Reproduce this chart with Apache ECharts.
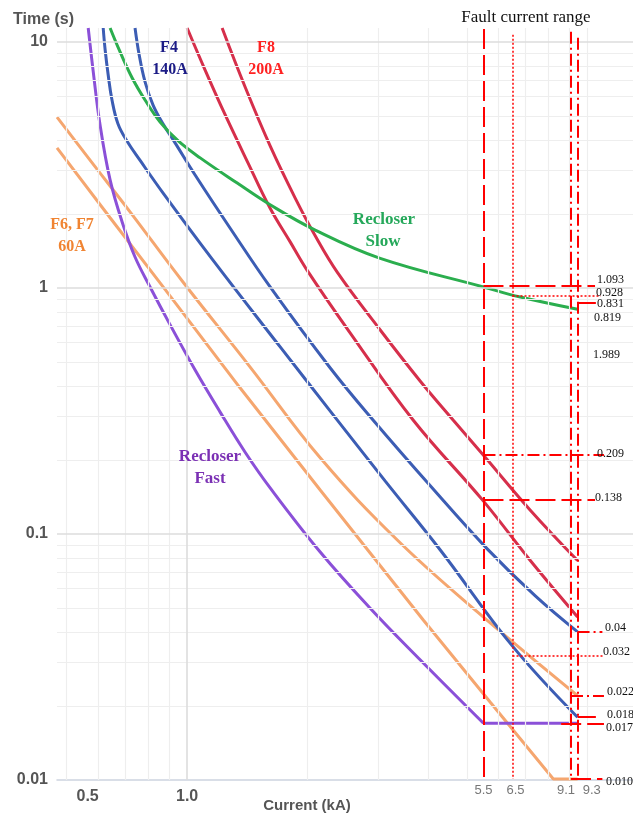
<!DOCTYPE html>
<html>
<head>
<meta charset="utf-8">
<title>Fuse / recloser coordination</title>
<script src="https://cdn.jsdelivr.net/npm/echarts@6.0.0/dist/echarts.min.js"></script>
<style>
html, body { margin: 0; padding: 0; background: #fff; }
#tcc-chart { width: 633px; height: 815px; }
</style>
</head>
<body>
<div id="tcc-chart"></div>
<script>
// axis ranges: current in kA, time in s
var currentRange = [0.473, 13];
var timeRange = [0.01, 11.4];

// grid lines
var currentGrid = [0.5, 0.6, 0.7, 0.8, 0.9, 2, 3, 4, 5, 6, 7, 8, 9, 10];
var currentMajor = [1];
var timeGrid = [0.02, 0.03, 0.04, 0.05, 0.06, 0.07, 0.08, 0.09,
                0.2, 0.3, 0.4, 0.5, 0.6, 0.7, 0.8, 0.9,
                2, 3, 4, 5, 6, 7, 8, 9];
var timeMajor = [0.1, 1, 10];

// x tick labels
var currentTicks = [0.5, 1, 5.5, 6.5, 9.1, 9.3];
var currentTickText = ['0.5', '1.0', '5.5', '6.5', '9.1', '9.3'];

// Recloser fast
var fastI = [0.566, 0.582, 0.606, 0.642, 0.688, 0.741, 0.808, 0.907, 1.047, 1.209, 1.396, 1.612, 2.15, 2.87, 3.82, 5.5];
var fastT = [11.4, 7.69, 4.6, 2.75, 1.855, 1.337, 1.01, 0.708, 0.464, 0.313, 0.215, 0.154, 0.0845, 0.0498, 0.0308, 0.017];
var fastFlatI = [5.5, 9.45];
var fastFlatT = [0.017, 0.017];

// Recloser slow
var slowI = [0.642, 0.68, 0.729, 0.785, 0.856, 0.95, 1.078, 1.334, 1.612, 2.089, 3.037, 5.5, 6.8, 9.45];
var slowT = [11.4, 9.11, 7.14, 5.81, 4.73, 3.96, 3.38, 2.67, 2.18, 1.72, 1.32, 1.01, 0.919, 0.819];

// F4 140A
var f4aI = [0.617, 0.624, 0.635, 0.649, 0.672, 0.708, 0.763, 0.871, 1.155, 1.708, 2.278, 3.126, 4.29, 6.5, 9.45];
var f4aT = [11.4, 9.28, 7.34, 5.81, 4.64, 3.95, 3.3, 2.43, 1.31, 0.576, 0.316, 0.164, 0.0861, 0.035, 0.018];
var f4bI = [0.741, 0.759, 0.785, 0.822, 0.871, 0.933, 1.047, 1.281, 1.612, 2.278, 2.917, 4.05, 5.62, 7.41, 9.45];
var f4bT = [11.4, 8.85, 6.88, 5.54, 4.64, 3.89, 2.88, 1.75, 1.01, 0.473, 0.29, 0.157, 0.087, 0.056, 0.04];

// F8 200A
var f8aI = [1.0, 1.109, 1.245, 1.42, 1.612, 1.809, 1.995, 2.556, 3.673, 5.5, 7.2, 9.45];
var f8aT = [11.4, 7.69, 5.05, 3.22, 2.11, 1.54, 1.18, 0.656, 0.29, 0.136, 0.078, 0.046];
var f8bI = [1.223, 1.396, 1.612, 1.862, 2.089, 2.371, 3.037, 3.82, 4.624, 5.5, 7.2, 9.45];
var f8bT = [11.4, 6.56, 3.78, 2.32, 1.63, 1.16, 0.675, 0.419, 0.29, 0.209, 0.125, 0.078];

// F6, F7 60A
var f67aI = [0.473, 0.572, 0.72, 0.972, 1.437, 2.15, 3.35, 5.31, 9.45];
var f67aT = [4.95, 3.31, 2.04, 1.068, 0.477, 0.204, 0.0945, 0.0482, 0.022];
var f67bI = [0.473, 0.642, 0.871, 1.357, 2.15, 3.89, 5.72, 8.22, 9.45];
var f67bT = [3.71, 1.93, 1.01, 0.392, 0.151, 0.0447, 0.0207, 0.0101, 0.0101];

// fault current range lines: [current, top time]
var faultDashed = [[5.5, 11.3]];
var faultDotted = [[6.5, 10.7]];
var faultDashDot = [[9.1, 11.0], [9.45, 10.4]];

// reading lines: [time, from current, to current]
var readDashed = [[1.02, 5.5, 10.45], [0.138, 5.5, 10.45], [0.87, 9.45, 10.5],
                  [0.018, 9.45, 10.5], [0.017, 8.6, 11], [0.0101, 9.1, 10.9]];
var readDotted = [[0.93, 6.5, 10.8], [0.032, 6.5, 11]];
var readDashDot = [[0.209, 5.5, 11], [0.04, 9.45, 10.9], [0.022, 9.1, 11]];

// reading texts
var readText = ['1.093', '0.928', '0.831', '0.819', '1.989', '0.209', '0.138', '0.04', '0.032', '0.022', '0.018', '0.017', '0.010'];
var readTextPos = [[597, 280], [596, 293], [597, 304], [594, 318], [593, 355], [597, 454], [595, 498],
                   [605, 628], [603, 652], [607, 692], [607, 715], [606, 728], [606, 782]];

var SERIF = '"Liberation Serif", "Times New Roman", serif';
var SANS = '"Liberation Sans", Arial, sans-serif';

function pairs(xs, ys) {
    return xs.map(function (x, i) { return [x, ys[i]]; });
}

function curve(name, xs, ys, color, smooth) {
    return {
        name: name,
        type: 'line',
        data: pairs(xs, ys),
        showSymbol: false,
        smooth: smooth,
        silent: true,
        z: 3,
        lineStyle: { color: color, width: 3 },
        itemStyle: { color: color }
    };
}

function gridSeries(xs, ys, color, width) {
    var lines = xs.map(function (v) { return { xAxis: v }; })
        .concat(ys.map(function (v) { return { yAxis: v }; }));
    return {
        type: 'line',
        data: [],
        silent: true,
        z: 1,
        markLine: {
            silent: true,
            symbol: ['none', 'none'],
            label: { show: false },
            animation: false,
            lineStyle: { color: color, width: width, type: 'solid' },
            data: lines
        }
    };
}

function redLines(verticals, readings, dash, width) {
    var segs = [];
    verticals.forEach(function (v) {
        segs.push([{ coord: [v[0], v[1]] }, { coord: [v[0], 0.0101] }]);
    });
    readings.forEach(function (r) {
        segs.push([{ coord: [r[1], r[0]] }, { coord: [r[2], r[0]] }]);
    });
    return {
        type: 'line',
        data: [],
        silent: true,
        z: 4,
        markLine: {
            silent: true,
            symbol: ['none', 'none'],
            label: { show: false },
            animation: false,
            lineStyle: { color: '#ff0000', width: width, type: dash, opacity: 1 },
            data: segs
        }
    };
}

var chart = echarts.init(document.getElementById('tcc-chart'));

var option = {
    animation: false,
    backgroundColor: '#ffffff',
    grid: { left: 57, right: 0, top: 28, bottom: 35, containLabel: false },
    xAxis: {
        type: 'log',
        logBase: 10,
        min: currentRange[0],
        max: currentRange[1],
        axisLine: { show: true, lineStyle: { color: '#cdd3df', width: 1.5 } },
        axisTick: { show: false },
        axisLabel: { show: false },
        splitLine: { show: false }
    },
    yAxis: {
        type: 'log',
        logBase: 10,
        min: timeRange[0],
        max: timeRange[1],
        axisLine: { show: false },
        axisTick: { show: false },
        splitLine: { show: false },
        axisLabel: {
            showMaxLabel: false,
            margin: 9,
            color: '#555555',
            fontFamily: SANS,
            fontWeight: 'bold',
            fontSize: 16
        }
    },
    series: [
        gridSeries(currentGrid, timeGrid, '#eeeeee', 1.2),
        gridSeries(currentMajor, timeMajor, '#dcdcdc', 1.6),
        curve('F6 F7 a', f67aI, f67aT, '#f5a66f', 0.4),
        curve('F6 F7 b', f67bI, f67bT, '#f5a66f', false),
        curve('Recloser Fast', fastI, fastT, '#8b50d8', 0.4),
        curve('Recloser Fast flat', fastFlatI, fastFlatT, '#8b50d8', false),
        curve('F4 a', f4aI, f4aT, '#3c5db4', 0.4),
        curve('F4 b', f4bI, f4bT, '#3c5db4', 0.4),
        curve('F8 a', f8aI, f8aT, '#d62f4b', 0.4),
        curve('F8 b', f8bI, f8bT, '#d62f4b', 0.4),
        curve('Recloser Slow', slowI, slowT, '#2bae4e', 0.4),
        redLines(faultDashed, readDashed, [20, 6], 2),
        redLines(faultDotted, readDotted, [2, 2], 1.5),
        redLines(faultDashDot, readDashDot, [12, 4, 2, 4], 2)
    ]
};

chart.setOption(option);

// texts placed after layout so tick labels follow the axis scale
var graphics = [];

function addText(text, x, y, font, color, align) {
    graphics.push({
        type: 'text',
        x: x,
        y: y,
        z: 10,
        silent: true,
        style: { text: text, font: font, fill: color, align: align || 'center', verticalAlign: 'middle' }
    });
}

var tickShift = [21, 0, 0, 3, -5, 17];
currentTicks.forEach(function (v, i) {
    var p = chart.convertToPixel({ gridIndex: 0 }, [v, timeRange[0]]);
    if (i < 2) {
        addText(currentTickText[i], p[0] + tickShift[i], p[1] + 17, 'bold 16px ' + SANS, '#555555');
    } else {
        addText(currentTickText[i], p[0] + tickShift[i], p[1] + 10, '13px ' + SANS, '#777777');
    }
});

addText('Time (s)', 13, 20, 'bold 16px ' + SANS, '#555555', 'left');
addText('Current (kA)', 307, 806, 'bold 15px ' + SANS, '#555555');
addText('Fault current range', 526, 18, '17px ' + SERIF, '#111111');

addText('F4', 169, 48, 'bold 16px ' + SERIF, '#1c1c86');
addText('140A', 170, 70, 'bold 16px ' + SERIF, '#1c1c86');
addText('F8', 266, 48, 'bold 16px ' + SERIF, '#ff2222');
addText('200A', 266, 70, 'bold 16px ' + SERIF, '#ff2222');
addText('F6, F7', 72, 225, 'bold 16px ' + SERIF, '#f08432');
addText('60A', 72, 247, 'bold 16px ' + SERIF, '#f08432');
addText('Recloser', 384, 220, 'bold 17px ' + SERIF, '#25a85a');
addText('Slow', 383, 242, 'bold 17px ' + SERIF, '#25a85a');
addText('Recloser', 210, 457, 'bold 17px ' + SERIF, '#7b30b4');
addText('Fast', 210, 479, 'bold 17px ' + SERIF, '#7b30b4');

readText.forEach(function (t, i) {
    addText(t, readTextPos[i][0], readTextPos[i][1], '12px ' + SERIF, '#111111', 'left');
});

chart.setOption({ graphic: graphics });
</script>
</body>
</html>
